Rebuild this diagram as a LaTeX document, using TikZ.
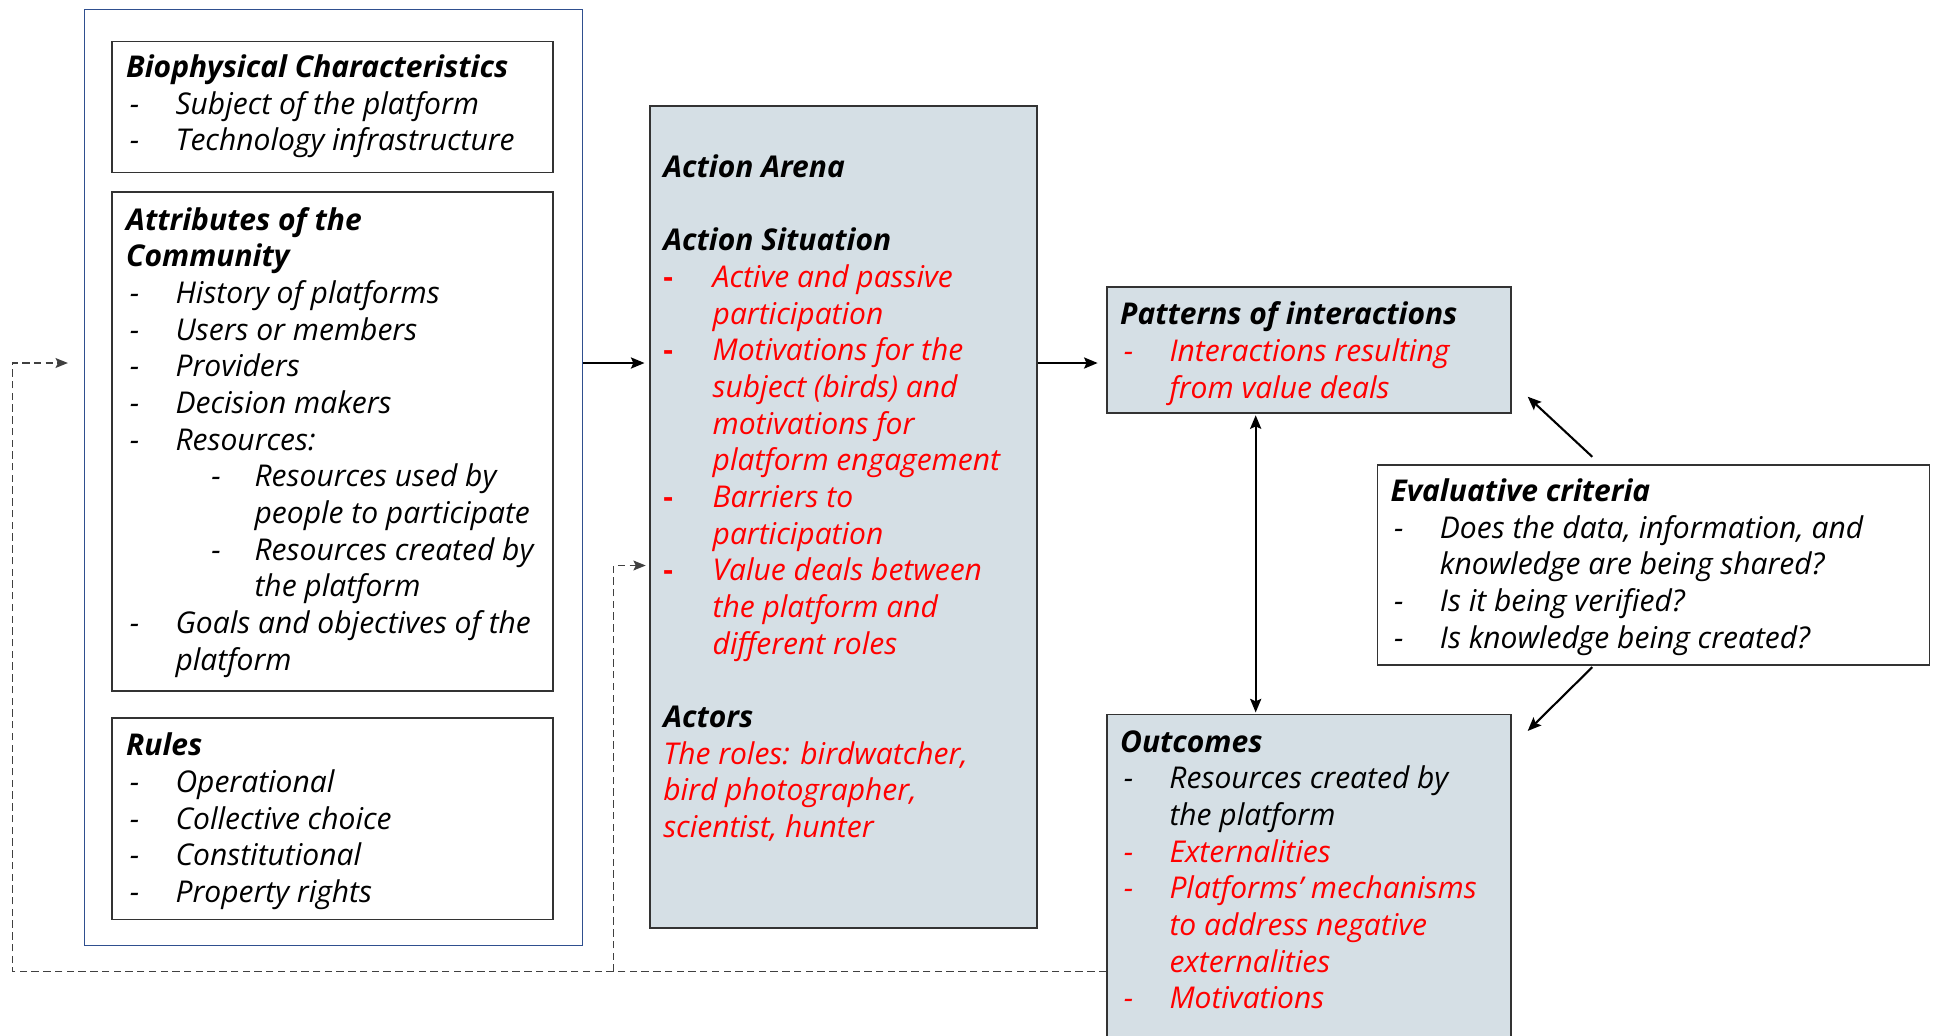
\documentclass[tikz,border=0pt]{standalone}
\usepackage{fontspec}
\setmainfont{Open Sans}
\usetikzlibrary{arrows.meta,calc}
\definecolor{boxfill}{HTML}{D5DFE5}
\definecolor{bluebord}{HTML}{2F4F8F}
\definecolor{bord}{HTML}{333333}
\definecolor{dashcol}{HTML}{404040}
\newcommand{\di}[1]{\makebox[40pt][l]{\hspace{3pt}-}#1}
\newcommand{\dr}[1]{\makebox[40pt][l]{\hspace{3pt}\textcolor{red}{-}}\textcolor{red}{#1}}
\newcommand{\dbr}[1]{\makebox[40pt][l]{\textcolor{red}{\bfseries\upshape -}}\textcolor{red}{#1}}
\newcommand{\ind}[1]{\hspace*{40pt}#1}
\newcommand{\sdi}[1]{\hspace*{66pt}\makebox[38pt][l]{\hspace{3pt}-}#1}
\newcommand{\sind}[1]{\hspace*{104pt}#1}
\newcommand{\fst}{\rule{0pt}{22pt}}
\begin{document}
\begin{tikzpicture}[x=1pt,y=-1pt,
  box/.style={draw=bord, line width=1.3pt, inner sep=0pt, anchor=north west},
  fbox/.style={box, fill=boxfill},
  outerbox/.style={draw=bluebord, line width=1.1pt, inner sep=0pt, anchor=north west},
  txt/.style={anchor=north west, inner sep=0pt, align=left, font=\fontsize{24.3}{29.7}\selectfont\itshape},
  tip/.style={-{Stealth[length=11pt,width=9pt,inset=2pt]}},
  arr/.style={line width=1.7pt, tip},
  arrb/.style={line width=1.7pt, {Stealth[length=11pt,width=9pt,inset=2pt]}-{Stealth[length=11pt,width=9pt,inset=2pt]}},
  dsh/.style={draw=dashcol, line width=1.2pt, dash pattern=on 6pt off 3.5pt}
]
\useasboundingbox (0,0) rectangle (1568,839);
\clip (0,0) rectangle (1568,839);

% boxes
\node[outerbox, minimum width=403pt, minimum height=758pt] (blue) at (68,7) {};
\node[box, minimum width=357pt, minimum height=106pt] (bio) at (90,33) {};
\node[box, minimum width=357pt, minimum height=404pt] (attr) at (90,155) {};
\node[box, minimum width=357pt, minimum height=163pt] (rules) at (90,581) {};
\node[fbox, minimum width=313pt, minimum height=666pt] (act) at (526,85) {};
\node[fbox, minimum width=327pt, minimum height=102pt] (pat) at (896,232) {};
\node[box, fill=white, minimum width=447pt, minimum height=162pt] (eval) at (1115,376) {};
\node[fbox, minimum width=327pt, minimum height=300pt] (out) at (896,578) {};

% texts
\node[txt] (biot) at (102,40.6) {\fst\textbf{Biophysical Characteristics}\\
\di{Subject of the platform}\\
\di{Technology infrastructure}};

\node[txt] (attrt) at (102,164.3) {\fst\textbf{Attributes of the}\\
\textbf{Community}\\
\di{History of platforms}\\
\di{Users or members}\\
\di{Providers}\\
\di{Decision makers}\\
\di{Resources:}\\
\sdi{Resources used by}\\
\sind{people to participate}\\
\sdi{Resources created by}\\
\sind{the platform}\\
\di{Goals and objectives of the}\\
\ind{platform}};

\node[txt] (rulest) at (102,590) {\fst\textbf{Rules}\\
\di{Operational}\\
\di{Collective choice}\\
\di{Constitutional}\\
\di{Property rights}};

\node[txt] (actt) at (537,121.6) {\fst\textbf{Action Arena}\\
\mbox{}\\
\textbf{Action Situation}\\
\dbr{Active and passive}\\
\ind{\textcolor{red}{participation}}\\
\dbr{Motivations for the}\\
\ind{\textcolor{red}{subject (birds) and}}\\
\ind{\textcolor{red}{motivations for}}\\
\ind{\textcolor{red}{platform engagement}}\\
\dbr{Barriers to}\\
\ind{\textcolor{red}{participation}}\\
\dbr{Value deals between}\\
\ind{\textcolor{red}{the platform and}}\\
\ind{\textcolor{red}{different roles}}\\
\mbox{}\\
\textbf{Actors}\\
\textcolor{red}{The roles: birdwatcher,}\\
\textcolor{red}{bird photographer,}\\
\textcolor{red}{scientist, hunter}};

\node[txt] (patt) at (907,241) {\fst\textbf{Patterns of interactions}\\
\dr{Interactions resulting}\\
\ind{\textcolor{red}{from value deals}}};

\node[txt] (evalt) at (1126,384) {\fst\textbf{Evaluative criteria}\\
\di{Does the data, information, and}\\
\ind{knowledge are being shared?}\\
\di{Is it being verified?}\\
\di{Is knowledge being created?}};

\node[txt] (outt) at (907,587) {\fst\textbf{Outcomes}\\
\di{Resources created by}\\
\ind{the platform}\\
\dr{Externalities}\\
\dr{Platforms' mechanisms}\\
\ind{\textcolor{red}{to address negative}}\\
\ind{\textcolor{red}{externalities}}\\
\dr{Motivations}};

% connectors
\coordinate (r1) at (0,294);
\coordinate (vx) at (1017,0);
\draw[arr, shorten >=4pt] (blue.east |- r1) -- (act.west |- r1);
\draw[arr, shorten >=7pt] (act.east |- r1) -- (pat.west |- r1);
\draw[arrb, shorten >=1pt, shorten <=1pt] (pat.south -| vx) -- (out.north -| vx);
\draw[arr] ([xshift=-49.5pt, yshift=6pt]eval.north) -- ([shift={(13pt,14pt)}]pat.south east);
\draw[arr] ([xshift=-49.5pt, yshift=-1pt]eval.south) -- ([shift={(13pt,-14pt)}]out.north east);

% dashed feedback
\coordinate (fbL) at (10,787);
\coordinate (fbT) at (10,294);
\coordinate (fbB) at (497,787);
\coordinate (fbU) at (497,458);
\draw[dsh, -{Stealth[length=10pt,width=8pt,inset=2pt]}, shorten >=13pt] (out.west |- fbL) -- (fbL) -- (fbT) -- (blue.west |- fbT);
\draw[dsh, -{Stealth[length=10pt,width=8pt,inset=2pt]}, shorten >=3pt] (fbB) -- (fbU) -- (act.west |- fbU);
\end{tikzpicture}
\end{document}
